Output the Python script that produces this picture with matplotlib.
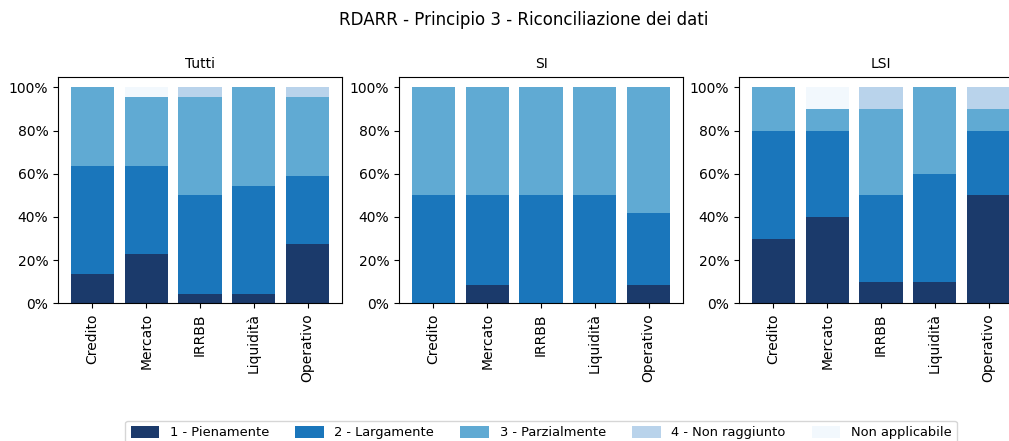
import matplotlib
matplotlib.use("Agg")
import matplotlib.pyplot as plt
from matplotlib.ticker import PercentFormatter
import numpy as np

categorie = ["Credito", "Mercato", "IRRBB", "Liquidità", "Operativo"]
livelli = ["1 - Pienamente", "2 - Largamente", "3 - Parzialmente",
           "4 - Non raggiunto", "Non applicabile"]
colori = ["#1b3a6b", "#1a76bb", "#60aad3", "#b9d3eb", "#f2f8fd"]

# percentuali per livello (righe) e categoria (colonne)
tutti = [
    [13.6, 22.7, 4.5, 4.5, 27.3],
    [50.0, 40.9, 45.5, 50.0, 31.8],
    [36.4, 31.8, 45.5, 45.5, 36.4],
    [0.0, 0.0, 4.5, 0.0, 4.5],
    [0.0, 4.6, 0.0, 0.0, 0.0],
]
si = [
    [0.0, 8.3, 0.0, 0.0, 8.3],
    [50.0, 41.7, 50.0, 50.0, 33.4],
    [50.0, 50.0, 50.0, 50.0, 58.3],
    [0.0, 0.0, 0.0, 0.0, 0.0],
    [0.0, 0.0, 0.0, 0.0, 0.0],
]
lsi = [
    [30, 40, 10, 10, 50],
    [50, 40, 40, 50, 30],
    [20, 10, 40, 40, 10],
    [0, 0, 10, 0, 10],
    [0, 10, 0, 0, 0],
]
pannelli = [("Tutti", tutti), ("SI", si), ("LSI", lsi)]

W, H = 1009, 441
fig = plt.figure(figsize=(W / 100, H / 100), dpi=100)
fig.suptitle("RDARR - Principio 3 - Riconciliazione dei dati",
             x=524 / W, y=0.975, fontsize=12)

lefts = [58, 399, 739]
axes = []
for left, (titolo, dati) in zip(lefts, pannelli):
    ax = fig.add_axes([left / W, 1 - 303.3 / H, 284 / W, 226.6 / H])
    x = np.arange(len(categorie))
    base = np.zeros(len(categorie))
    for lab, col, vals in zip(livelli, colori, dati):
        v = np.array(vals, dtype=float) / 100
        ax.bar(x, v, bottom=base, color=col, width=0.8, label=lab)
        base += v
    ax.set_xticks(x)
    ax.set_xticklabels(categorie, rotation=90)
    ax.set_xlim(-0.64, 4.64)
    ax.set_ylim(0, 1.05)
    ax.yaxis.set_major_formatter(PercentFormatter(xmax=1, decimals=0))
    ax.set_title(titolo, fontsize=10)
    axes.append(ax)

axes[1].legend(loc="upper center", bbox_to_anchor=(0.5, -0.49), ncol=5,
               fontsize=9.4, handlelength=2.2, handleheight=1.0,
               columnspacing=2.0, frameon=True)

fig.savefig("out.png", dpi=100)
